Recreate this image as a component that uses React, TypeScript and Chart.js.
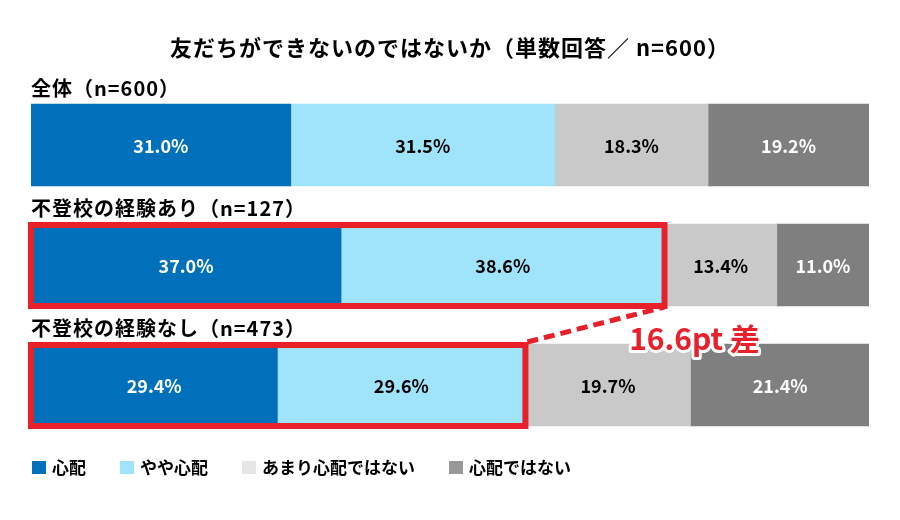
import React, { useEffect, useRef } from "react";
import { Chart, registerables } from "chart.js";

Chart.register(...registerables);

const chartTitle = "友だちができないのではないか（単数回答／ n=600）";
const groups = ["全体（n=600）", "不登校の経験あり（n=127）", "不登校の経験なし（n=473）"];
const seriesNames = ["心配", "やや心配", "あまり心配ではない", "心配ではない"];
const worried = [31.0, 37.0, 29.4];
const somewhatWorried = [31.5, 38.6, 29.6];
const notVeryWorried = [18.3, 13.4, 19.7];
const notWorried = [19.2, 11.0, 21.4];
const barColors = ["#0070bb", "#a0e4fb", "#c9c9c9", "#7f7f7f"];
const legendColors = ["#0070bb", "#a0e4fb", "#e6e6e6", "#999999"];
const labelColors = ["#ffffff", "#000000", "#000000", "#ffffff"];
const highlightRows = [1, 2];
const gapLabel = "16.6pt 差";

const FONT = '"Noto Sans CJK JP", "Noto Sans", sans-serif';
const RED = "#e8202a";

const overlay = {
  id: "overlay",
  afterDatasetsDraw(chart: any) {
    const ctx = chart.ctx as CanvasRenderingContext2D;
    const yScale = chart.scales.y;
    ctx.save();

    // title
    ctx.fillStyle = "#000";
    ctx.font = `bold 22px ${FONT}`;
    ctx.textAlign = "center";
    ctx.textBaseline = "middle";
    (ctx as any).letterSpacing = "1px";
    ctx.fillText(chartTitle, chart.width / 2, 48);

    // data labels
    ctx.font = `bold 18px ${FONT}`;
    (ctx as any).letterSpacing = "0px";
    chart.data.datasets.forEach((ds: any, di: number) => {
      const meta = chart.getDatasetMeta(di);
      meta.data.forEach((el: any, i: number) => {
        const c = el.getCenterPoint();
        ctx.fillStyle = labelColors[di];
        ctx.fillText(ds.data[i].toFixed(1) + "%", c.x, c.y + 1);
      });
    });

    // group labels
    const meta0 = chart.getDatasetMeta(0);
    const meta1 = chart.getDatasetMeta(1);
    ctx.textAlign = "left";
    ctx.fillStyle = "#000";
    ctx.font = `bold 20px ${FONT}`;
    (ctx as any).letterSpacing = "1px";
    groups.forEach((g, i) => {
      const el = meta0.data[i];
      const top = yScale.getPixelForValue(i) - el.height / 2;
      ctx.fillText(g, chart.chartArea.left, top - 16);
    });
    (ctx as any).letterSpacing = "0px";

    // highlight rectangles
    ctx.strokeStyle = RED;
    ctx.lineWidth = 6;
    const boxes = highlightRows.map((i) => {
      const a = meta0.data[i];
      const b = meta1.data[i];
      const left = a.base;
      const right = b.x;
      const top = a.y - a.height / 2;
      const bottom = a.y + a.height / 2;
      ctx.strokeRect(left, top + 1, right - left, bottom - top - 1);
      return { left, right, top, bottom };
    });

    // dashed connector
    const [b1, b2] = boxes;
    ctx.setLineDash([11, 6]);
    ctx.lineWidth = 5;
    ctx.beginPath();
    ctx.moveTo(b2.right + 2, b2.top - 2);
    ctx.lineTo(b1.right, b1.bottom + 1);
    ctx.stroke();
    ctx.setLineDash([]);

    // annotation
    ctx.font = `bold 30px ${FONT}`;
    ctx.textAlign = "center";
    ctx.textBaseline = "alphabetic";
    const ax = b1.right + 30;
    const ay = b2.top + 6;
    ctx.lineJoin = "round";
    ctx.lineWidth = 6;
    ctx.strokeStyle = "#fff";
    ctx.strokeText(gapLabel, ax, ay);
    ctx.fillStyle = RED;
    ctx.fillText(gapLabel, ax, ay);

    // legend
    ctx.font = `bold 17px ${FONT}`;
    ctx.textAlign = "left";
    ctx.textBaseline = "middle";
    let x = chart.chartArea.left + 1;
    const ly = 468;
    seriesNames.forEach((name, i) => {
      ctx.fillStyle = legendColors[i];
      ctx.fillRect(x, ly - 7, 14, 13);
      ctx.fillStyle = "#000";
      ctx.fillText(name, x + 20, ly);
      x += 20 + ctx.measureText(name).width + 34;
    });

    ctx.restore();
  },
};

export default function App() {
  const ref = useRef<HTMLCanvasElement | null>(null);
  useEffect(() => {
    if (!ref.current) return;
    const seriesData = [worried, somewhatWorried, notVeryWorried, notWorried];
    const chart = new Chart(ref.current, {
      type: "bar",
      data: {
        labels: groups,
        datasets: seriesNames.map((name, i) => ({
          label: name,
          data: seriesData[i],
          backgroundColor: barColors[i],
          borderWidth: 0,
          barThickness: 82,
        })),
      },
      options: {
        indexAxis: "y",
        responsive: false,
        animation: false,
        layout: { padding: { left: 31, right: 31, top: 85, bottom: 75 } },
        scales: {
          x: { stacked: true, min: 0, max: 100, display: false },
          y: { stacked: true, display: false },
        },
        plugins: {
          legend: { display: false },
          title: { display: false },
          tooltip: { enabled: false },
        },
      },
      plugins: [overlay],
    });
    return () => chart.destroy();
  }, []);
  return (
    <div style={{ position: "fixed", left: 0, top: 0, width: 900, height: 520, background: "#fff" }}>
      <canvas ref={ref} width={900} height={520} />
    </div>
  );
}
